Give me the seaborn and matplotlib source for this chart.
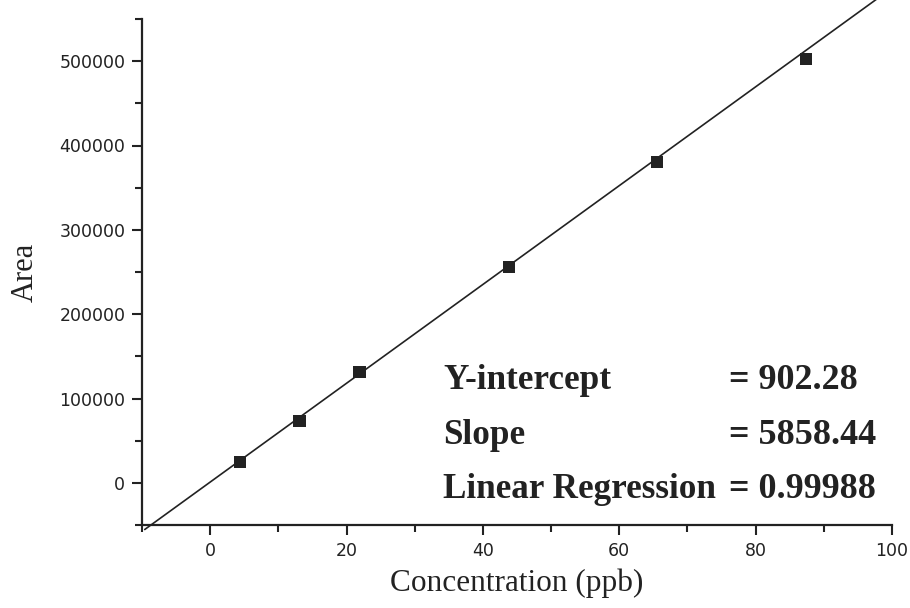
import numpy as np
import pandas as pd
import matplotlib
matplotlib.use("Agg")
import matplotlib.pyplot as plt
from matplotlib.ticker import MultipleLocator
import seaborn as sns

# ---- data ----
concentration = [4.4, 13.1, 21.9, 43.8, 65.6, 87.4]
area = [25000, 73500, 131500, 256500, 380500, 502500]
slope = 5858.44
intercept = 902.28
r_value = 0.99988
line_x = [-9.6, 97.8]
x_ticks = [0, 20, 40, 60, 80, 100]
y_ticks = [0, 100000, 200000, 300000, 400000, 500000]
stat_labels = ["Y-intercept", "Slope", "Linear Regression"]
stat_values = ["= 902.28", "= 5858.44", "= 0.99988"]

sns.set_style("ticks")
plt.rcParams["font.family"] = ["DejaVu Sans"]

W, H = 910, 608
fig = plt.figure(figsize=(W / 100, H / 100), dpi=100)
ax = fig.add_axes([142 / W, (H - 525) / H, (892 - 142) / W, (525 - 19) / H])

df = pd.DataFrame({"Concentration": concentration, "Area": area})
fit = pd.DataFrame({"x": line_x, "y": [slope * v + intercept for v in line_x]})

sns.lineplot(data=fit, x="x", y="y", ax=ax, color="#222222", linewidth=1.2,
             clip_on=False, zorder=2)
sns.scatterplot(data=df, x="Concentration", y="Area", ax=ax, marker="s",
                s=75, color="#222222", edgecolor="none", zorder=3, clip_on=False)

ax.set_xlim(-10, 100)
ax.set_ylim(-50000, 550000)
ax.set_xticks(x_ticks)
ax.set_yticks(y_ticks)
ax.xaxis.set_minor_locator(MultipleLocator(10))
ax.yaxis.set_minor_locator(MultipleLocator(50000))
ax.set_xticklabels([str(t) for t in x_ticks])
ax.set_yticklabels([str(t) for t in y_ticks])

for s in ["top", "right"]:
    ax.spines[s].set_visible(False)
for s in ["left", "bottom"]:
    ax.spines[s].set_linewidth(1.6)
    ax.spines[s].set_color("#222222")

ax.tick_params(axis="both", which="major", direction="out", length=7, width=1.5,
               colors="#222222", labelsize=12.5, pad=5)
ax.tick_params(axis="both", which="minor", direction="out", length=5, width=1.5,
               colors="#222222")

ax.set_xlabel("Concentration (ppb)", fontfamily="Liberation Serif", fontsize=22.5,
              color="#222222", labelpad=6)
ax.set_ylabel("Area", fontfamily="Liberation Serif", fontsize=22,
              color="#222222", labelpad=14)

baselines = [389, 444, 498]
for lab, val, yb in zip(stat_labels, stat_values, baselines):
    fig.text(443 / W, (H - yb) / H, lab, fontfamily="Liberation Serif",
             fontweight="bold", fontsize=25.3, color="#222222", va="baseline", ha="left")
    fig.text(729 / W, (H - yb) / H, val, fontfamily="Liberation Serif",
             fontweight="bold", fontsize=26, color="#222222", va="baseline", ha="left")

fig.savefig("out.png", dpi=100, facecolor="white")
